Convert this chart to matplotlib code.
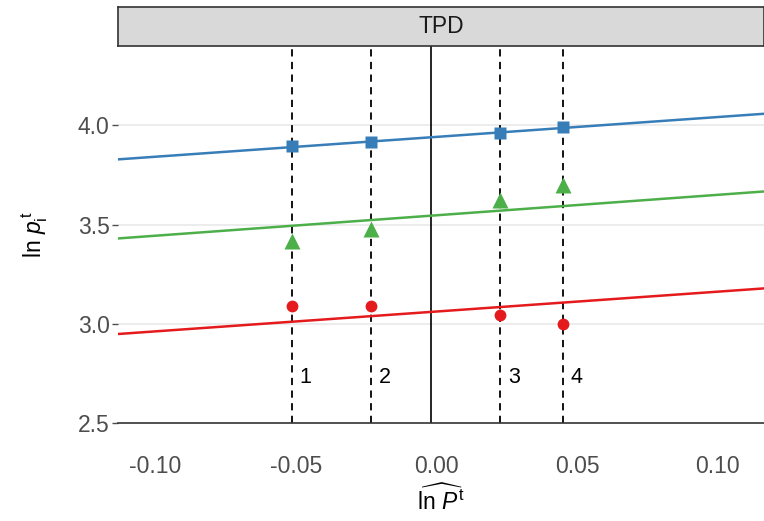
import matplotlib.pyplot as plt
import numpy as np

# estimated price index positions (dashed lines) for the 4 periods
periods = ["1", "2", "3", "4"]
period_x = [-0.0515, -0.0234, 0.0226, 0.0449]

# observed log prices per item
blue_pts = [3.895, 3.915, 3.96, 3.99]
green_pts = [3.415, 3.48, 3.625, 3.70]
red_pts = [3.09, 3.09, 3.045, 3.0]

# fitted lines: intercept, slope
blue_fit = [3.942, 1.0]
green_fit = [3.547, 1.03]
red_fit = [3.062, 1.0]

xlim = [-0.1133, 0.1165]
ylim = [2.5, 4.4]

plt.rcParams['font.family'] = ['Liberation Sans', 'DejaVu Sans']
plt.rcParams['mathtext.fontset'] = 'custom'
plt.rcParams['mathtext.rm'] = 'Liberation Sans'
plt.rcParams['mathtext.it'] = 'Liberation Sans:italic'

fig = plt.figure(figsize=(7.64, 5.21), dpi=100)
ax = fig.add_axes([0.1545, 0.188, 0.8455, 0.7237])

for y in [3.0, 3.5, 4.0]:
    ax.axhline(y, color='#ebebeb', lw=1.3, zorder=0)

for xv in period_x:
    ax.axvline(xv, color='black', ls=(0, (4, 3)), lw=1.3, zorder=1)
# solid line at the mean of the period positions
ax.axvline(np.mean(period_x), color='black', lw=1.2, zorder=1)

xs = np.array(xlim)
cols = ['#377eb8', '#4daf4a', '#e41a1c']
fits = [blue_fit, green_fit, red_fit]
pts = [blue_pts, green_pts, red_pts]
marks = ['s', '^', 'o']
msz = [9, 11, 8.5]
for c, f, p, m, s in zip(cols, fits, pts, marks, msz):
    ax.plot(xs, f[0] + f[1] * xs, color=c, lw=1.8, zorder=2)
    ax.plot(period_x, p, m, color=c, ms=s, mec='none', zorder=3)

for xv, lab in zip(period_x, periods):
    ax.text(xv + 0.0028, 2.73, lab, fontsize=15.5, va='center', ha='left')

ax.set_xlim(xlim)
ax.set_ylim(ylim)
ax.set_xticks([-0.10, -0.05, 0.0, 0.05, 0.10])
ax.set_xticklabels(['-0.10', '-0.05', '0.00', '0.05', '0.10'])
ax.set_yticks([2.5, 3.0, 3.5, 4.0])
ax.set_yticklabels(['2.5', '3.0', '3.5', '4.0'])
ax.tick_params(axis='x', length=0, labelsize=16.5, labelcolor='#4d4d4d', pad=23)
ax.tick_params(axis='y', length=4, width=1, color='#4d4d4d', labelsize=16.5,
               labelcolor='#4d4d4d', pad=2)
for s in ['top', 'right', 'left']:
    ax.spines[s].set_visible(False)
ax.spines['bottom'].set_color('#333333')
ax.spines['bottom'].set_linewidth(1.2)

ax.set_ylabel(r'$\mathrm{ln}\ p_{\mathrm{i}}^{\,\mathrm{t}}$', fontsize=16.5, labelpad=20)
ax.set_xlabel(r'$\widehat{\mathrm{ln}\ P}^{\,\mathrm{t}}$', fontsize=16.5, labelpad=5)

# facet strip
strip = fig.add_axes([0.1545, 0.9117, 0.8455, 0.0749])
strip.set_facecolor('#d9d9d9')
strip.set_xticks([])
strip.set_yticks([])
for s in strip.spines.values():
    s.set_color('#333333')
    s.set_linewidth(1.2)
strip.text(0.5, 0.5, 'TPD', fontsize=16.5, ha='center', va='center',
           color='#1a1a1a', transform=strip.transAxes)

fig.savefig('out.png', dpi=100)
